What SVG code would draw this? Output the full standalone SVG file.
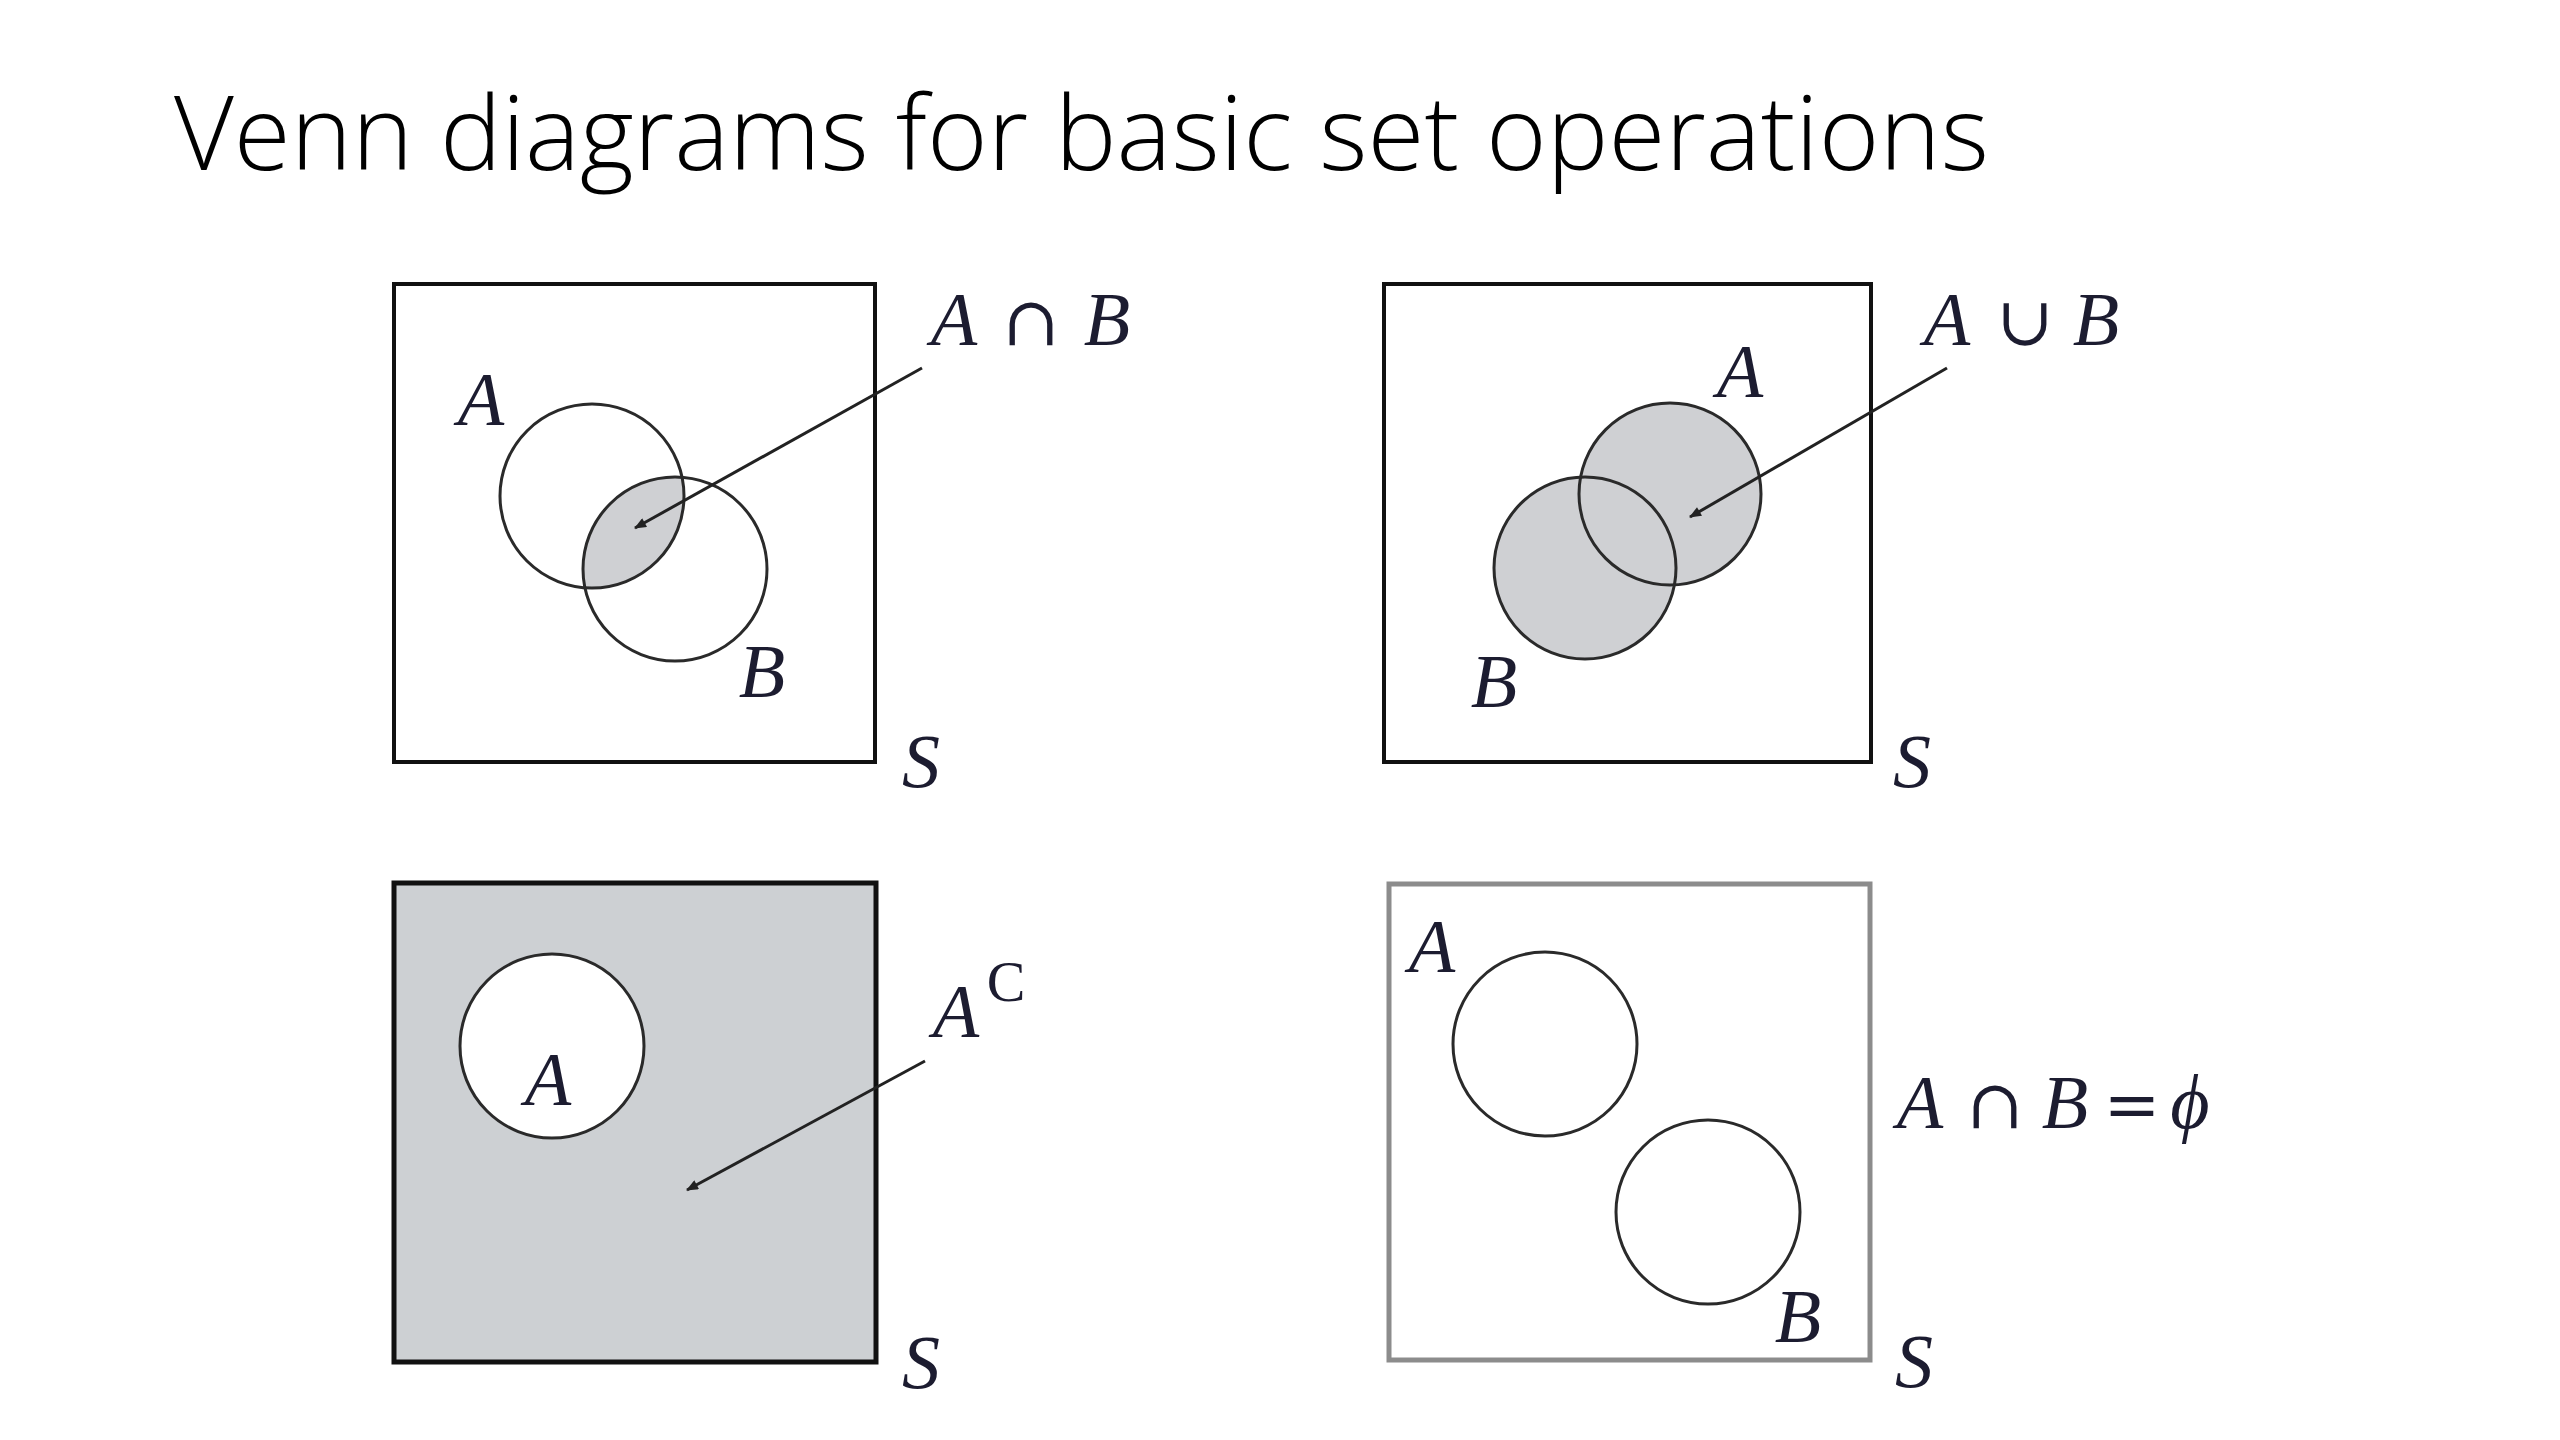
<svg xmlns="http://www.w3.org/2000/svg" width="2560" height="1440" viewBox="0 0 2560 1440">
<style>
.frame{fill:none;stroke:#111;stroke-width:4}
.ring{fill:none;stroke:#2a2a2a;stroke-width:3}
.shade{fill:#cfd0d3}
.lbl{font-family:"Liberation Serif","DejaVu Serif",serif;font-style:italic;font-size:76px;fill:#1c1c30;text-anchor:middle}
.op{font-family:"DejaVu Serif","Liberation Serif",serif;font-style:normal;font-size:68px;fill:#1c1c30;text-anchor:middle}
.sup{font-family:"Liberation Serif","DejaVu Serif",serif;font-style:normal;font-size:58px;fill:#1c1c30;text-anchor:middle}
.title{font-family:"Open Sans","Liberation Sans",sans-serif;font-weight:300;font-size:104px;fill:#000}
.conn{stroke:#222;stroke-width:3;fill:none}
</style>
<defs>
<marker id="ah" viewBox="0 0 12 10" refX="11" refY="5" markerWidth="14" markerHeight="10" markerUnits="userSpaceOnUse" orient="auto">
<path d="M0,0 L12,5 L0,10 Z" fill="#222"/>
</marker>
<clipPath id="clipA1"><circle cx="592" cy="496" r="92"/></clipPath>
</defs>
<rect width="2560" height="1440" fill="#fff"/>
<text class="title" x="174" y="170" textLength="1815" lengthAdjust="spacingAndGlyphs">Venn diagrams for basic set operations</text>

<g id="intersection">
<rect class="frame" x="394" y="284" width="481" height="478"/>
<circle class="shade" cx="675" cy="569" r="92" clip-path="url(#clipA1)"/>
<circle class="ring" cx="592" cy="496" r="92"/>
<circle class="ring" cx="675" cy="569" r="92"/>
<text class="lbl" x="481" y="425">A</text>
<text class="lbl" x="762" y="697">B</text>
<text class="lbl" x="921" y="787">S</text>
<text class="lbl" x="954" y="345">A</text>
<text class="op" x="1031" y="345">∩</text>
<text class="lbl" x="1107" y="345">B</text>
</g>

<g id="union">
<rect class="frame" x="1384" y="284" width="487" height="478"/>
<circle class="shade" cx="1670" cy="494" r="91"/>
<circle class="shade" cx="1585" cy="568" r="91"/>
<circle class="ring" cx="1670" cy="494" r="91"/>
<circle class="ring" cx="1585" cy="568" r="91"/>
<text class="lbl" x="1740" y="397">A</text>
<text class="lbl" x="1494" y="707">B</text>
<text class="lbl" x="1912" y="787">S</text>
<text class="lbl" x="1947" y="345">A</text>
<text class="op" x="2025" y="345">∪</text>
<text class="lbl" x="2096" y="345">B</text>
</g>

<g id="complement">
<rect x="394" y="883" width="482" height="479" fill="#cdd0d3" stroke="#111" stroke-width="5"/>
<circle cx="552" cy="1046" r="92" fill="#fff" stroke="#2a2a2a" stroke-width="3"/>
<text class="lbl" x="548" y="1105">A</text>
<text class="lbl" x="956" y="1037">A</text>
<text class="sup" x="1006" y="1001">C</text>
<text class="lbl" x="921" y="1388">S</text>
</g>

<g id="disjoint">
<rect x="1389" y="884" width="481" height="476" fill="none" stroke="#8c8c8c" stroke-width="5"/>
<circle class="ring" cx="1545" cy="1044" r="92"/>
<circle class="ring" cx="1708" cy="1212" r="92"/>
<text class="lbl" x="1432" y="972">A</text>
<text class="lbl" x="1798" y="1342">B</text>
<text class="lbl" x="1914" y="1387">S</text>
<text class="lbl" x="1920" y="1128">A</text>
<text class="op" x="1995" y="1128">∩</text>
<text class="lbl" x="2065" y="1128">B</text>
<text class="op" x="2132" y="1128">=</text>
<text class="lbl" x="2190" y="1128">ϕ</text>
</g>

<g id="connectors">
<line class="conn" x1="922" y1="368" x2="635" y2="528" marker-end="url(#ah)"/>
<line class="conn" x1="1947" y1="368" x2="1690" y2="517" marker-end="url(#ah)"/>
<line class="conn" x1="925" y1="1061" x2="687" y2="1190" marker-end="url(#ah)"/>
</g>
</svg>
